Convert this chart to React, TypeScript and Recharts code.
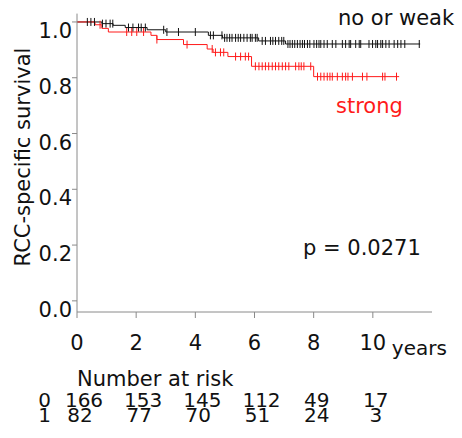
import React from 'react';
import { ComposedChart, Line, Scatter, XAxis, YAxis, Customized } from 'recharts';

// ---- data ----
const xTicks = [0, 2, 4, 6, 8, 10];
const yTicks = [0, 0.2, 0.4, 0.6, 0.8, 1.0];
const riskGroups = ['0', '1'];
const riskRow0 = [166, 153, 145, 112, 49, 17];
const riskRow1 = [82, 77, 70, 51, 24, 3];

// "no or weak" group (black)
const blackTimes = [0, 0.84, 1.22, 1.63, 2.37, 3.0, 4.44, 4.92, 6.14, 7.05, 11.6];
const blackSurv = [1.0, 0.994, 0.988, 0.98, 0.972, 0.964, 0.952, 0.943, 0.932, 0.921, 0.921];
const blackCensor = [
  0.35, 0.47, 0.59, 0.86, 0.98, 1.12, 1.21, 1.74, 1.89, 2.08, 2.17, 2.31, 2.93, 3.04, 3.43, 4.0,
  4.51, 4.61, 4.9, 4.99, 5.07, 5.16, 5.24, 5.36, 5.45, 5.53, 5.64, 5.75, 5.86, 5.92, 6.03, 6.09,
  6.26, 6.37, 6.54, 6.62, 6.71, 6.82, 6.92, 6.99, 7.13, 7.2, 7.28, 7.36, 7.45, 7.54, 7.62, 7.69,
  7.79, 7.87, 8.01, 8.1, 8.18, 8.24, 8.35, 8.46, 8.63, 8.75, 8.97, 9.08, 9.2, 9.25, 9.42, 9.54,
  9.59, 9.87, 9.99, 10.1, 10.16, 10.27, 10.33, 10.44, 10.55, 10.72, 10.84, 10.95, 11.08, 11.57,
];

// "strong" group (red)
const redTimes = [0, 0.61, 0.84, 1.06, 2.5, 2.7, 3.6, 4.4, 4.6, 5.1, 5.9, 8.0, 10.89];
const redSurv = [1.0, 0.99, 0.977, 0.964, 0.952, 0.937, 0.919, 0.903, 0.891, 0.876, 0.841, 0.804, 0.804];
const redCensor = [
  0.78, 1.68, 1.85, 2.02, 2.25, 2.7, 3.72, 4.57, 4.68, 4.85, 4.96, 5.36, 5.53, 5.69, 5.8, 6.03,
  6.15, 6.26, 6.37, 6.48, 6.6, 6.71, 6.82, 6.94, 7.05, 7.16, 7.39, 7.5, 7.58, 7.67, 7.9, 8.13,
  8.24, 8.35, 8.46, 8.55, 8.63, 8.8, 8.97, 9.08, 9.16, 9.31, 9.65, 9.8, 10.33, 10.41, 10.8,
];

// ---- helpers ----
const toSteps = (times: number[], surv: number[]) => times.map((t, i) => ({ t, s: surv[i] }));
const survAt = (times: number[], surv: number[], t: number) => {
  let s = surv[0];
  for (let i = 0; i < times.length; i++) if (times[i] <= t) s = surv[i];
  return s;
};
const toCensor = (times: number[], surv: number[], cens: number[]) =>
  cens.map((t) => ({ t, s: survAt(times, surv, t) }));

const blackSteps = toSteps(blackTimes, blackSurv);
const redSteps = toSteps(redTimes, redSurv);
const blackMarks = toCensor(blackTimes, blackSurv, blackCensor);
const redMarks = toCensor(redTimes, redSurv, redCensor);

const FONT = 'DejaVu Sans';
const FS = 21;
const FS_RISK = 20;
const AXIS = '#8a8a8a';
const BLACK = '#111111';
const RED = '#ff1a1a';

const censorShape = (color: string) => (props: any) => {
  const { cx, cy } = props;
  if (cx == null || cy == null) return <g />;
  return <line x1={cx} x2={cx} y1={cy - 4} y2={cy + 4} stroke={color} strokeWidth={1} />;
};

const YTick = (props: any) => {
  const { x, y, payload } = props;
  return (
    <text x={x} y={y + 16} textAnchor="end" fontFamily={FONT} fontSize={FS} fill="#111">
      {Number(payload.value).toFixed(1)}
    </text>
  );
};

const riskDx = (v: number) => (String(v).length >= 3 ? 7 : 3);

const XTick = (props: any) => {
  const { x, y, payload } = props;
  const i = xTicks.indexOf(payload.value);
  return (
    <g fontFamily={FONT} fontSize={FS} fill="#111">
      <text x={x} y={y + 32} textAnchor="middle">{payload.value}</text>
      {payload.value === 10 && (
        <text x={x + 19} y={y + 37} textAnchor="start" fontSize={20}>years</text>
      )}
      {i === 0 && (
        <>
          <text x={x} y={y + 68} textAnchor="start">Number at risk</text>
          <text x={x - 32.5} y={y + 89} textAnchor="middle" fontSize={FS_RISK}>{riskGroups[0]}</text>
          <text x={x - 32.5} y={y + 104} textAnchor="middle" fontSize={FS_RISK}>{riskGroups[1]}</text>
        </>
      )}
      {i >= 0 && (
        <>
          <text x={x + riskDx(riskRow0[i])} y={y + 89} textAnchor="middle" fontSize={FS_RISK}>{riskRow0[i]}</text>
          <text x={x + riskDx(riskRow1[i])} y={y + 104} textAnchor="middle" fontSize={FS_RISK}>{riskRow1[i]}</text>
        </>
      )}
    </g>
  );
};

const Annotations = () => (
  <g fontFamily={FONT} fontSize={FS}>
    <text x={338} y={25} fill="#111">no or weak</text>
    <text x={336} y={113} fill={RED}>strong</text>
    <text x={303} y={255} fill="#111">p = 0.0271</text>
    <text
      x={0}
      y={0}
      transform="translate(30,157) rotate(-90)"
      textAnchor="middle"
      fill="#111"
    >
      RCC-specific survival
    </text>
  </g>
);

export default function App() {
  return (
    <div style={{ position: 'absolute', left: 0, top: 0, width: 462, height: 438, background: '#fff' }}>
      <ComposedChart
        width={462}
        height={438}
        margin={{ top: 13.6, right: 30, bottom: 86, left: 7 }}
        style={{ fontFamily: FONT }}
      >
        <XAxis
          dataKey="t"
          type="number"
          domain={[0, 12]}
          ticks={xTicks}
          allowDataOverflow
          height={40}
          tickSize={6}
          tickMargin={0}
          stroke={AXIS}
          tickLine={{ stroke: AXIS }}
          axisLine={{ stroke: AXIS }}
          tick={<XTick />}
          interval={0}
        />
        <YAxis
          type="number"
          domain={[-0.04, 1.03]}
          ticks={yTicks}
          allowDataOverflow
          width={70}
          tickSize={5}
          tickMargin={0}
          stroke={AXIS}
          tickLine={{ stroke: AXIS }}
          axisLine={{ stroke: AXIS }}
          tick={<YTick />}
          interval={0}
        />
        <Line
          data={blackSteps}
          dataKey="s"
          type="stepAfter"
          stroke={BLACK}
          strokeWidth={1}
          dot={false}
          activeDot={false}
          isAnimationActive={false}
        />
        <Line
          data={redSteps}
          dataKey="s"
          type="stepAfter"
          stroke={RED}
          strokeWidth={1}
          dot={false}
          activeDot={false}
          isAnimationActive={false}
        />
        <Scatter data={blackMarks} dataKey="s" shape={censorShape(BLACK)} isAnimationActive={false} />
        <Scatter data={redMarks} dataKey="s" shape={censorShape(RED)} isAnimationActive={false} />
        <Customized component={Annotations} />
      </ComposedChart>
    </div>
  );
}
